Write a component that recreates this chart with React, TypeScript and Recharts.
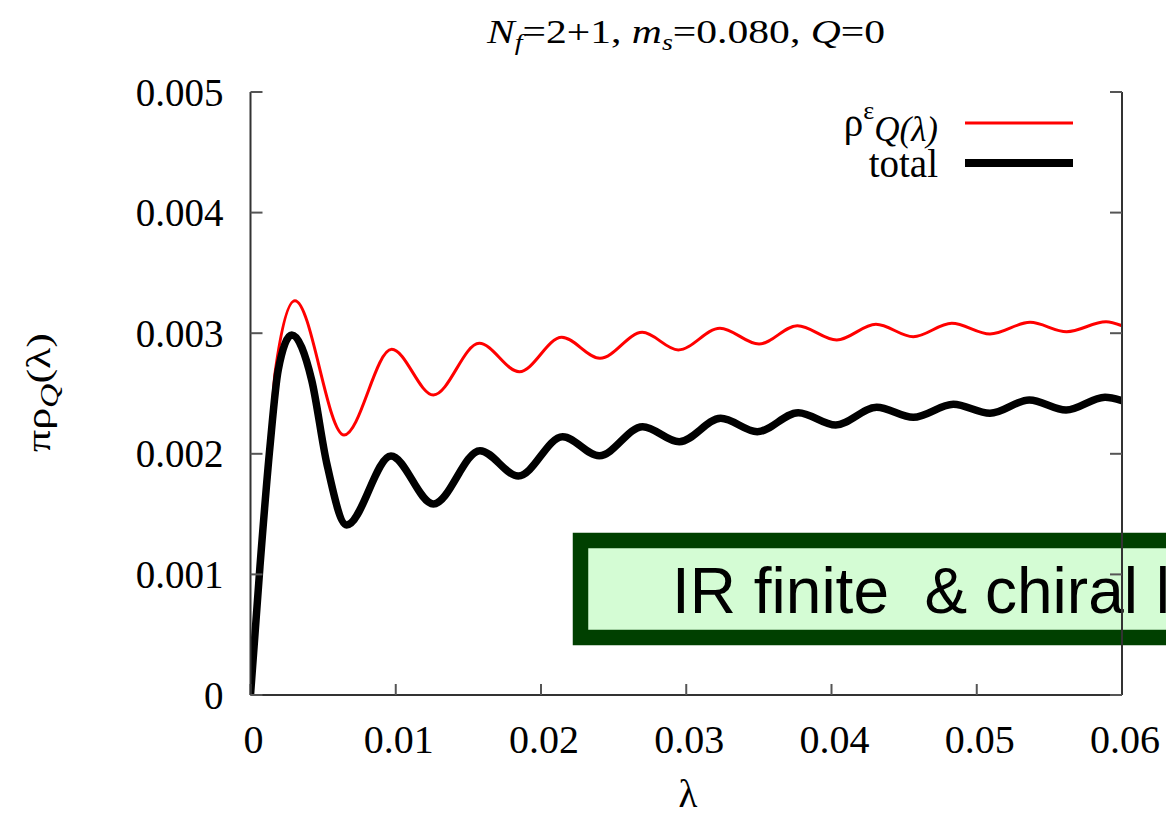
import React from 'react';
import { LineChart, Line, XAxis, YAxis, Customized } from 'recharts';

// λ values and πρ values
const lambdaEps = [0, 0.00065, 0.00134, 0.00169, 0.00306, 0.00644, 0.00972, 0.01259, 0.01575, 0.01851, 0.02143, 0.02406, 0.02697, 0.02945, 0.03232, 0.03501, 0.03765, 0.04036, 0.04306, 0.04563, 0.04828, 0.05091, 0.05367, 0.05619, 0.0589, 0.06];
const rhoEps = [0, 0.001064, 0.002059, 0.00267, 0.00327, 0.002156, 0.002866, 0.002488, 0.002916, 0.002681, 0.002966, 0.002792, 0.003007, 0.002861, 0.003041, 0.00291, 0.003062, 0.002944, 0.003074, 0.002971, 0.003082, 0.002993, 0.00309, 0.003012, 0.003095, 0.003062];

const lambdaTotal = [0, 0.00065, 0.00134, 0.00191, 0.00284, 0.00421, 0.00525, 0.00662, 0.00967, 0.01259, 0.0158, 0.01844, 0.02149, 0.02401, 0.027, 0.02952, 0.03237, 0.03489, 0.03771, 0.04029, 0.04311, 0.04563, 0.04839, 0.05091, 0.05362, 0.05615, 0.05883, 0.06];
const rhoTotal = [0, 0.001064, 0.002059, 0.002695, 0.002985, 0.002612, 0.001921, 0.00141, 0.001982, 0.001584, 0.002026, 0.001816, 0.002142, 0.001984, 0.002225, 0.0021, 0.002294, 0.002183, 0.002341, 0.002239, 0.002386, 0.002303, 0.00241, 0.002336, 0.002446, 0.002363, 0.002469, 0.00244];

const xTicks = [0, 0.01, 0.02, 0.03, 0.04, 0.05, 0.06];
const yTicks = [0, 0.001, 0.002, 0.003, 0.004, 0.005];
const xTickLabels = ['0', '0.01', '0.02', '0.03', '0.04', '0.05', '0.06'];
const yTickLabels = ['0', '0.001', '0.002', '0.003', '0.004', '0.005'];

const epsData = lambdaEps.map((x, i) => ({ x, y: rhoEps[i] }));
const totalData = lambdaTotal.map((x, i) => ({ x, y: rhoTotal[i] }));

const SERIF = '"Liberation Serif", "Times New Roman", serif';
const SANS = '"Liberation Sans", Arial, sans-serif';

const XTick = (props: any) => {
  const { x, y, payload } = props;
  const idx = xTicks.indexOf(payload.value);
  return (
    <text x={x + 3} y={y + 69} textAnchor="middle" fontFamily={SERIF} fontSize={40} fill="#000">
      {idx >= 0 ? xTickLabels[idx] : ''}
    </text>
  );
};

const YTick = (props: any) => {
  const { x, y, payload } = props;
  const idx = yTicks.indexOf(payload.value);
  return (
    <text x={x - 39} y={y + 13.5} textAnchor="end" fontFamily={SERIF} fontSize={39} fill="#000">
      {idx >= 0 ? yTickLabels[idx] : ''}
    </text>
  );
};

const NoTick = () => <g />;

const Decorations = () => (
  <g>
    {/* title */}
    <text x={487} y={43} fontFamily={SERIF} fontSize={34} fill="#000" textLength={398} lengthAdjust="spacingAndGlyphs">
      <tspan fontStyle="italic">N</tspan>
      <tspan fontStyle="italic" fontSize={23} dy={7}>f</tspan>
      <tspan dy={-7}>=2+1, </tspan>
      <tspan fontStyle="italic">m</tspan>
      <tspan fontStyle="italic" fontSize={23} dy={7}>s</tspan>
      <tspan dy={-7}>=0.080, </tspan>
      <tspan fontStyle="italic">Q</tspan>
      <tspan>=0</tspan>
    </text>
    {/* x label */}
    <text x={688} y={807} textAnchor="middle" fontFamily={SERIF} fontSize={39} fill="#000">λ</text>
    {/* y label */}
    <text transform="translate(50,452) rotate(-90)" x={0} y={0} fontFamily={SERIF} fontSize={34} fill="#000" textLength={119} lengthAdjust="spacingAndGlyphs">
      <tspan>πρ</tspan>
      <tspan fontStyle="italic" fontSize={26} dy={8}>Q</tspan>
      <tspan dy={-8}>(λ)</tspan>
    </text>
    {/* legend */}
    <text x={938} y={136} textAnchor="end" fontFamily={SERIF} fontSize={39} fill="#000">
      ρ<tspan dy={-17} fontSize={26}>ε</tspan>
      <tspan dy={22} fontStyle="italic" fontSize={35}>Q(λ)</tspan>
    </text>
    <line x1={965} x2={1073} y1={123} y2={123} stroke="#ff0000" strokeWidth={3} />
    <text x={938} y={177} textAnchor="end" fontFamily={SERIF} fontSize={39} fill="#000">total</text>
    <line x1={965} x2={1073} y1={163} y2={163} stroke="#000" strokeWidth={8} />
    {/* annotation box */}
    <rect x={580.5} y={540.5} width={700} height={97} fill="#d4fcd4" stroke="#004000" strokeWidth={15.5} />
    <text x={672} y={613} fontFamily={SANS} fontSize={64} fill="#000" style={{ whiteSpace: 'pre' }} xmlSpace="preserve">
      {'IR finite  & chiral limit'}
    </text>
  </g>
);

export default function App() {
  return (
    <div style={{ position: 'absolute', left: 0, top: 0, width: 1166, height: 816, overflow: 'hidden', background: '#fff' }}>
      <LineChart width={1166} height={816} margin={{ top: 92, right: 0, bottom: 0, left: 0 }}>
        <XAxis
          dataKey="x"
          type="number"
          domain={[0, 0.06]}
          ticks={xTicks}
          allowDataOverflow
          height={121}
          tickSize={-11}
          tickMargin={0}
          tick={<XTick />}
          axisLine={{ stroke: '#333', strokeWidth: 2 }}
          tickLine={{ stroke: '#555', strokeWidth: 2 }}
        />
        <XAxis
          xAxisId="top"
          orientation="top"
          dataKey="x"
          type="number"
          domain={[0, 0.06]}
          ticks={xTicks}
          allowDataOverflow
          height={0}
          tickSize={-11}
          tick={<NoTick />}
          axisLine={{ stroke: '#333', strokeWidth: 2 }}
          tickLine={{ stroke: '#555', strokeWidth: 2 }}
        />
        <YAxis
          dataKey="y"
          type="number"
          domain={[0, 0.005]}
          ticks={yTicks}
          allowDataOverflow
          width={250.5}
          tickSize={-12}
          tickMargin={0}
          tick={<YTick />}
          axisLine={{ stroke: '#333', strokeWidth: 2 }}
          tickLine={{ stroke: '#555', strokeWidth: 2 }}
        />
        <YAxis
          yAxisId="right"
          orientation="right"
          dataKey="y"
          type="number"
          domain={[0, 0.005]}
          ticks={yTicks}
          allowDataOverflow
          width={44}
          tickSize={-12}
          tick={<NoTick />}
          axisLine={{ stroke: '#333', strokeWidth: 2 }}
          tickLine={{ stroke: '#555', strokeWidth: 2 }}
        />
        <Line
          data={epsData}
          dataKey="y"
          type="monotone"
          stroke="#ff0000"
          strokeWidth={3}
          dot={false}
          activeDot={false}
          isAnimationActive={false}
          name="rho_eps"
        />
        <Line
          data={totalData}
          dataKey="y"
          type="monotone"
          stroke="#000000"
          strokeWidth={7.5}
          dot={false}
          activeDot={false}
          isAnimationActive={false}
          name="total"
        />
        <Customized component={<Decorations />} />
      </LineChart>
    </div>
  );
}
